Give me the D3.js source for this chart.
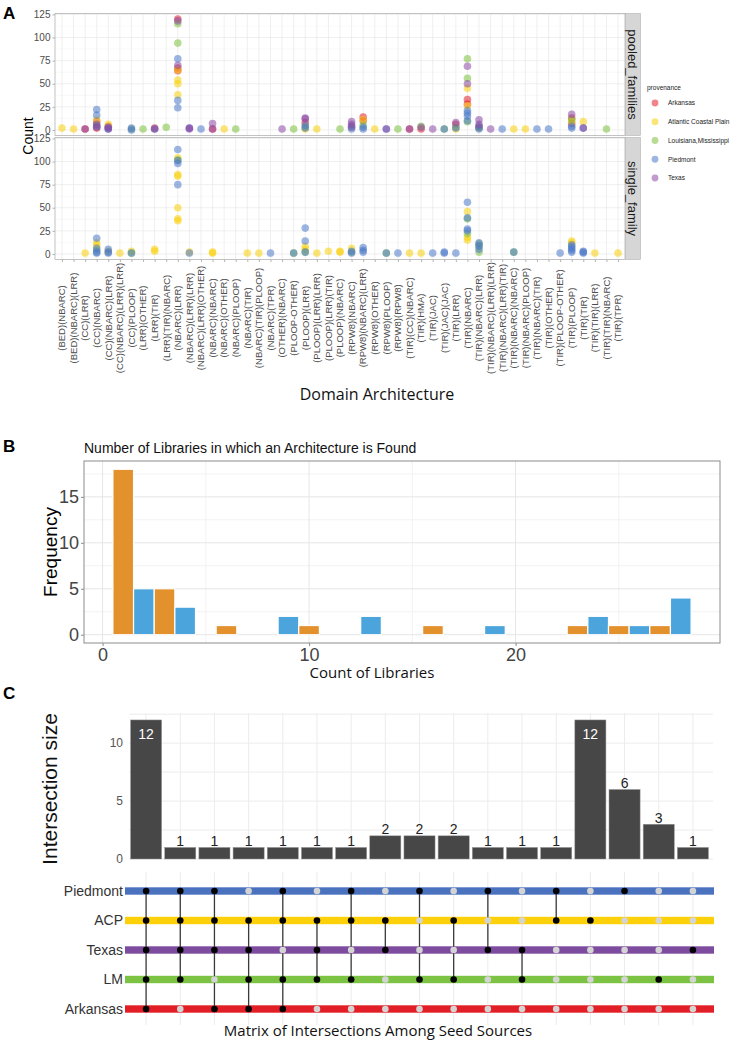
<!DOCTYPE html>
<html><head><meta charset="utf-8">
<script src="https://cdn.jsdelivr.net/npm/d3@7"></script>
<style>body{margin:0;background:#fff}svg{display:block}</style>
</head><body>
<svg id="c" width="733" height="1042"></svg>
<script>
// ---------------- DATA ----------------
const categories = ["(BED)(NBARC)","(BED)(NBARC)(LRR)","(CC)(LRR)","(CC)(NBARC)","(CC)(NBARC)(LRR)","(CC)(NBARC)(LRR)(LRR)","(CC)(PLOOP)","(LRR)(OTHER)","(LRR)(TIR)","(LRR)(TIR)(NBARC)","(NBARC)(LRR)","(NBARC)(LRR)(LRR)","(NBARC)(LRR)(OTHER)","(NBARC)(NBARC)","(NBARC)(OTHER)","(NBARC)(PLOOP)","(NBARC)(TIR)","(NBARC)(TIR)(PLOOP)","(NBARC)(TPR)","(OTHER)(NBARC)","(PLOOP-OTHER)","(PLOOP)(LRR)","(PLOOP)(LRR)(LRR)","(PLOOP)(LRR)(TIR)","(PLOOP)(NBARC)","(RPW8)(NBARC)","(RPW8)(NBARC)(LRR)","(RPW8)(OTHER)","(RPW8)(PLOOP)","(RPW8)(RPW8)","(TIR)(CC)(NBARC)","(TIR)(HMA)","(TIR)(JAC)","(TIR)(JAC)(JAC)","(TIR)(LRR)","(TIR)(NBARC)","(TIR)(NBARC)(LRR)","(TIR)(NBARC)(LRR)(LRR)","(TIR)(NBARC)(LRR)(TIR)","(TIR)(NBARC)(NBARC)","(TIR)(NBARC)(PLOOP)","(TIR)(NBARC)(TIR)","(TIR)(OTHER)","(TIR)(PLOOP-OTHER)","(TIR)(PLOOP)","(TIR)(TIR)","(TIR)(TIR)(LRR)","(TIR)(TIR)(NBARC)","(TIR)(TPR)"];
const provenances = ["Arkansas","Atlantic Coastal Plain","Louisiana,Mississippi","Piedmont","Texas"];
const provColors = ["#e21f2a","#f9cf0a","#7cbf3c","#4a78c8","#8a49a6"];
const countTicks = [0,25,50,75,100,125];
const facetNames = ["pooled_families","single_family"];

// [category index, count]
const pooledArkansas = [[2,1],[3,9],[3,2],[4,4],[8,2],[10,120],[10,67],[10,64],[13,1],[21,8],[25,3],[26,14],[26,10],[30,1],[31,1],[34,6],[35,33],[35,28],[36,3],[44,13],[44,7]];
const pooledACP = [[0,2],[1,1],[3,11],[4,6],[10,65],[10,54],[10,50],[10,38],[14,1],[21,1],[22,1],[26,11],[27,1],[34,1],[35,45],[35,26],[39,1],[40,1],[44,9],[45,9]];
const pooledLM = [[3,5],[6,1],[7,1],[9,3],[10,115],[10,94],[15,1],[20,1],[21,3],[24,1],[26,5],[29,1],[31,4],[33,1],[34,3],[35,77],[35,56],[35,9],[36,2],[44,11],[47,1]];
const pooledPiedmont = [[3,22],[3,16],[3,4],[4,1],[4,2],[6,2],[6,0],[8,1],[10,77],[10,32],[10,24],[11,2],[12,1],[21,5],[21,2],[25,4],[25,1],[26,3],[26,1],[28,1],[33,1],[34,2],[35,21],[35,18],[35,15],[35,10],[36,4],[36,1],[38,1],[41,1],[42,1],[44,4],[44,2],[45,2]];
const pooledTexas = [[2,1],[3,6],[3,3],[4,3],[4,1],[8,1],[10,118],[10,70],[11,2],[11,1],[13,7],[13,1],[19,1],[21,13],[21,12],[25,9],[25,6],[28,1],[30,1],[31,3],[32,1],[34,8],[35,69],[35,50],[36,11],[36,6],[37,1],[44,17],[45,2]];

const singleArkansas = [];
const singleACP = [[2,1],[3,12],[3,9],[4,3],[5,1],[6,3],[8,5],[8,3],[10,104],[10,86],[10,84],[10,50],[10,38],[10,36],[11,2],[13,1],[13,2],[16,1],[17,1],[21,8],[21,5],[22,1],[23,3],[24,2],[24,3],[25,6],[30,1],[31,1],[35,46],[35,18],[35,15],[44,14],[44,12],[46,1],[48,1]];
const singleLM = [[3,4],[6,1],[10,102],[20,1],[21,2],[25,2],[28,1],[35,38],[35,22],[36,11],[36,8],[36,2],[39,2]];
const singlePiedmont = [[3,17],[3,6],[3,2],[3,1],[4,5],[4,2],[4,1],[6,1],[10,113],[10,101],[10,98],[10,75],[11,1],[18,1],[20,1],[21,28],[21,14],[21,2],[25,3],[25,1],[26,7],[26,4],[26,2],[28,1],[29,1],[32,1],[33,1],[33,2],[34,1],[35,56],[35,39],[35,27],[35,25],[36,12],[36,9],[36,5],[39,2],[43,1],[44,10],[44,8],[44,6],[44,4],[44,2],[45,3],[45,2],[45,1]];
const singleTexas = [];

// Panel B histogram
const libCounts = [1,2,3,4,6,9,10,13,16,19,23,24,25,26,27,28];
const libFreq = [18,5,5,3,1,2,1,2,1,1,1,2,1,1,1,4];
const libGroup = ["o","b","o","b","o","b","o","b","o","b","o","b","o","b","o","b"];
const libTicksX = [0,10,20];
const libTicksY = [0,5,10,15];

// Panel C upset
const setNames = ["Piedmont","ACP","Texas","LM","Arkansas"];
const setColors = ["#4a72bf","#fdd10a","#7e4c9f","#7cc243","#e21f26"];
const interSizes = [12,1,1,1,1,1,1,2,2,2,1,1,1,12,6,3,1];
const interSets = [
  ["Piedmont","ACP","Texas","LM","Arkansas"],
  ["Piedmont","ACP","Texas","LM"],
  ["Piedmont","ACP","Texas","Arkansas"],
  ["ACP","Texas","LM","Arkansas"],
  ["Piedmont","ACP","LM","Arkansas"],
  ["ACP","Texas","LM"],
  ["Piedmont","ACP","LM"],
  ["ACP","Texas"],
  ["Piedmont","LM"],
  ["ACP","LM"],
  ["Piedmont","Texas"],
  ["Texas","LM"],
  ["Piedmont","ACP"],
  ["ACP"],
  ["Piedmont"],
  ["LM"],
  ["Texas"]
];
const interTicks = [0,5,10];

// ---------------- DRAW ----------------
const svg = d3.select("#c");
const fG = "'Liberation Sans', Arial, Helvetica, sans-serif";
const fM = "'Open Sans', 'Noto Sans', sans-serif";

function panelLabel(t, x, y){
  svg.append("text").attr("x",x).attr("y",y).text(t)
    .attr("font-family",fG).attr("font-weight","bold").attr("font-size",17).attr("fill","#000");
}

// ===== Panel A =====
panelLabel("A",3,19);
const xA = d3.scalePoint().domain(categories).range([55,625]).padding(0.6);
const yA = d3.scaleLinear().domain([-6,126]);
const pooled = [pooledArkansas,pooledACP,pooledLM,pooledPiedmont,pooledTexas];
const single = [singleArkansas,singleACP,singleLM,singlePiedmont,singleTexas];
const facets = [{name:facetNames[0], top:13.5, bottom:135.5, data:pooled},
                {name:facetNames[1], top:137.5, bottom:259.5, data:single}];
const minorA = d3.pairs(countTicks).map(([a,b])=>(a+b)/2);

facets.forEach((p,pi)=>{
  const y = yA.copy().range([p.bottom,p.top]);
  const g = svg.append("g");
  g.append("rect").attr("x",55).attr("y",p.top).attr("width",570).attr("height",p.bottom-p.top).attr("fill","#fff");
  g.selectAll(null).data(minorA).join("line")
    .attr("x1",55).attr("x2",625).attr("y1",d=>y(d)).attr("y2",d=>y(d)).attr("stroke","#f3f3f3").attr("stroke-width",0.6);
  g.selectAll(null).data(countTicks).join("line")
    .attr("x1",55).attr("x2",625).attr("y1",d=>y(d)).attr("y2",d=>y(d)).attr("stroke","#e8e8e8").attr("stroke-width",0.7);
  g.selectAll(null).data(categories).join("line")
    .attr("x1",d=>xA(d)).attr("x2",d=>xA(d)).attr("y1",p.top).attr("y2",p.bottom).attr("stroke","#e8e8e8").attr("stroke-width",0.7);
  const pts = [];
  p.data.forEach((arr,i)=>arr.forEach(([c,v])=>pts.push({c:categories[c],v,col:provColors[i]})));
  g.selectAll(null).data(pts).join("circle")
    .attr("cx",d=>xA(d.c)).attr("cy",d=>y(d.v)).attr("r",3.8)
    .attr("fill",d=>d.col).attr("fill-opacity",0.55);
  g.append("rect").attr("x",55).attr("y",p.top).attr("width",570).attr("height",p.bottom-p.top)
    .attr("fill","none").attr("stroke","#b3b3b3").attr("stroke-width",0.8);
  const ax = g.append("g").attr("transform","translate(55,0)")
    .call(d3.axisLeft(y).tickValues(countTicks).tickSize(2.5).tickPadding(2));
  ax.select(".domain").remove();
  ax.selectAll("line").attr("stroke","#b3b3b3");
  ax.selectAll("text").attr("font-family",fG).attr("font-size",10).attr("fill","#4d4d4d");
  // strip
  g.append("rect").attr("x",625.5).attr("y",p.top).attr("width",15).attr("height",p.bottom-p.top)
    .attr("fill","#d6d6d6").attr("stroke","#b3b3b3").attr("stroke-width",0.6);
  g.append("text").attr("transform",`translate(633,${(p.top+p.bottom)/2}) rotate(90)`)
    .attr("text-anchor","middle").attr("dy","0.35em").text(p.name)
    .attr("font-family",fG).attr("font-size",13).attr("fill","#1a1a1a");
});
// x axis ticks + labels
const axA = svg.append("g").attr("transform","translate(0,259.5)")
  .call(d3.axisBottom(xA).tickSize(2.5).tickFormat(""));
axA.select(".domain").remove();
axA.selectAll("line").attr("stroke","#b3b3b3");
svg.append("g").selectAll(null).data(categories).join("text")
  .attr("transform",d=>`translate(${xA(d)},318) rotate(-90)`)
  .attr("text-anchor","middle").attr("dy","0.35em").text(d=>d)
  .attr("font-family",fG).attr("font-size",9.5).attr("fill","#4d4d4d");
svg.append("text").attr("transform","translate(33,136) rotate(-90)").attr("text-anchor","middle")
  .text("Count").attr("font-family",fG).attr("font-size",14).attr("fill","#000");
svg.append("text").attr("x",377).attr("y",400).attr("text-anchor","middle")
  .text("Domain Architecture").attr("font-family",fM).attr("font-size",16).attr("fill","#111");
// legend
const lg = svg.append("g");
lg.append("text").attr("x",647).attr("y",90).text("provenance").attr("font-family",fG).attr("font-size",6.5).attr("fill","#222");
const yL = d3.scalePoint().domain(provenances).range([103,178]);
lg.selectAll(null).data(provenances).join("circle")
  .attr("cx",655).attr("cy",d=>yL(d)).attr("r",3.4)
  .attr("fill",(d,i)=>provColors[i]).attr("fill-opacity",0.55);
lg.selectAll(null).data(provenances).join("text")
  .attr("x",668).attr("y",d=>yL(d)).attr("dy","0.35em").text(d=>d)
  .attr("font-family",fG).attr("font-size",6.5).attr("fill","#222");

// ===== Panel B =====
panelLabel("B",3,452);
svg.append("text").attr("x",84).attr("y",453).text("Number of Libraries in which an Architecture is Found")
  .attr("font-family",fG).attr("font-size",14).attr("fill","#111");
const xB = d3.scaleLinear().domain([-0.9,29.9]).range([84,720]);
const yB = d3.scaleLinear().domain([-0.9,18.9]).range([643,461]);
const gB = svg.append("g");
const minorBx = d3.range(5,30,10), minorBy = d3.range(2.5,19,5);
gB.selectAll(null).data(minorBx).join("line").attr("x1",d=>xB(d)).attr("x2",d=>xB(d)).attr("y1",461).attr("y2",643).attr("stroke","#f2f2f2");
gB.selectAll(null).data(minorBy).join("line").attr("y1",d=>yB(d)).attr("y2",d=>yB(d)).attr("x1",84).attr("x2",720).attr("stroke","#f2f2f2");
gB.selectAll(null).data(libTicksX).join("line").attr("x1",d=>xB(d)).attr("x2",d=>xB(d)).attr("y1",461).attr("y2",643).attr("stroke","#e6e6e6");
gB.selectAll(null).data(libTicksY).join("line").attr("y1",d=>yB(d)).attr("y2",d=>yB(d)).attr("x1",84).attr("x2",720).attr("stroke","#e6e6e6");
gB.selectAll(null).data(libCounts).join("rect")
  .attr("x",d=>xB(d-0.5)).attr("width",d=>xB(d+0.5)-xB(d-0.5))
  .attr("y",(d,i)=>yB(libFreq[i])).attr("height",(d,i)=>yB(0)-yB(libFreq[i]))
  .attr("fill",(d,i)=>libGroup[i]==="o"?"#e3912c":"#4ba5dc")
  .attr("stroke","#fff").attr("stroke-width",1.2);
gB.append("rect").attr("x",84).attr("y",461).attr("width",636).attr("height",182)
  .attr("fill","none").attr("stroke","#8c8c8c").attr("stroke-width",1);
const axBx = gB.append("g").attr("transform","translate(0,643)")
  .call(d3.axisBottom(xB).tickValues(libTicksX).tickSize(3).tickPadding(2));
axBx.select(".domain").remove();
axBx.selectAll("line").attr("stroke","#8c8c8c");
axBx.selectAll("text").attr("font-family",fG).attr("font-size",18).attr("fill","#444");
const axBy = gB.append("g").attr("transform","translate(84,0)")
  .call(d3.axisLeft(yB).tickValues(libTicksY).tickSize(3).tickPadding(2));
axBy.select(".domain").remove();
axBy.selectAll("line").attr("stroke","#8c8c8c");
axBy.selectAll("text").attr("font-family",fG).attr("font-size",18).attr("fill","#444");
svg.append("text").attr("transform","translate(57,552) rotate(-90)").attr("text-anchor","middle")
  .text("Frequency").attr("font-family",fG).attr("font-size",19).attr("fill","#000");
svg.append("text").attr("x",372).attr("y",678).attr("text-anchor","middle")
  .text("Count of Libraries").attr("font-family",fM).attr("font-size",15).attr("fill","#111");

// ===== Panel C =====
panelLabel("C",3,699);
const cols = d3.range(interSizes.length);
const xC = d3.scaleBand().domain(cols).range([129,710]).paddingInner(0.09).paddingOuter(0.045);
const yC = d3.scaleLinear().domain([0,12.6]).range([859,713]);
const gC = svg.append("g");
const cx = i=>xC(i)+xC.bandwidth()/2;
gC.selectAll(null).data(d3.range(0,12.6,2.5)).join("line")
  .attr("x1",129).attr("x2",713).attr("y1",d=>yC(d)).attr("y2",d=>yC(d)).attr("stroke","#ececec");
gC.selectAll(null).data(cols).join("line")
  .attr("x1",cx).attr("x2",cx).attr("y1",713).attr("y2",859).attr("stroke","#ececec");
gC.selectAll(null).data(cols).join("rect")
  .attr("x",i=>xC(i)).attr("width",xC.bandwidth())
  .attr("y",i=>yC(interSizes[i])).attr("height",i=>yC(0)-yC(interSizes[i]))
  .attr("fill","#474747").attr("stroke","#9a9a9a").attr("stroke-width",0.5);
gC.selectAll(null).data(cols).join("text")
  .attr("x",cx).attr("y",i=>interSizes[i]>=10?yC(interSizes[i])+19:yC(interSizes[i])-1.5)
  .attr("text-anchor","middle").text(i=>interSizes[i])
  .attr("font-family",fG).attr("font-size",14)
  .attr("fill",i=>interSizes[i]>=10?"#fff":"#222");
const axC = gC.append("g").attr("transform","translate(127,0)")
  .call(d3.axisLeft(yC).tickValues(interTicks).tickSize(0).tickPadding(4));
axC.select(".domain").remove();
axC.selectAll("text").attr("font-family",fG).attr("font-size",12).attr("fill","#555");
svg.append("text").attr("transform","translate(57,789) rotate(-90)").attr("text-anchor","middle")
  .text("Intersection size").attr("font-family",fG).attr("font-size",21).attr("fill","#111");
// matrix
const yR = d3.scalePoint().domain(setNames).range([891,1009]);
gC.selectAll(null).data(cols).join("line")
  .attr("x1",cx).attr("x2",cx).attr("y1",872).attr("y2",1025).attr("stroke","#ececec");
gC.selectAll(null).data(setNames).join("rect")
  .attr("x",125).attr("width",589).attr("y",d=>yR(d)-3.7).attr("height",7.4)
  .attr("fill",(d,i)=>setColors[i]);
gC.selectAll(null).data(setNames).join("text")
  .attr("x",123).attr("y",d=>yR(d)).attr("dy","0.35em").attr("text-anchor","end").text(d=>d)
  .attr("font-family",fG).attr("font-size",14).attr("fill","#333");
cols.forEach(i=>{
  const ys = interSets[i].map(s=>yR(s));
  if (ys.length>1) gC.append("line").attr("x1",cx(i)).attr("x2",cx(i))
    .attr("y1",d3.min(ys)).attr("y2",d3.max(ys)).attr("stroke","#3a3a3a").attr("stroke-width",1.3);
  gC.selectAll(null).data(setNames).join("circle").attr("cx",cx(i)).attr("cy",s=>yR(s)).attr("r",3.3)
    .attr("fill",s=>interSets[i].includes(s)?"#000":"#d4d4d4");
});
svg.append("text").attr("x",378).attr("y",1036).attr("text-anchor","middle")
  .text("Matrix of Intersections Among Seed Sources").attr("font-family",fM).attr("font-size",15).attr("fill","#111");
</script>
</body></html>
